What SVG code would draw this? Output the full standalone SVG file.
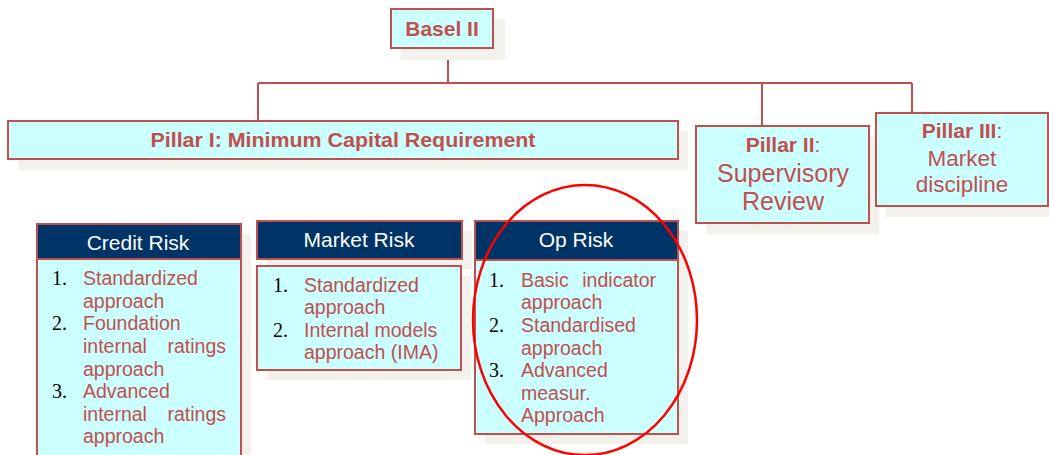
<svg xmlns="http://www.w3.org/2000/svg" width="1049" height="455" viewBox="0 0 1049 455">
<style>
.shadow{fill:#f3f1ec;stroke:none}
.box{fill:#ccffff;stroke:#c0504d;stroke-width:2}
.hdr{fill:#003366;stroke:#c0504d;stroke-width:2}
.t{font-family:"Liberation Sans",Arial,sans-serif;fill:#c0504d}
.b{font-weight:bold}
.h{font-family:"Liberation Sans",Arial,sans-serif;fill:#ffffff;font-size:21px;text-anchor:middle}
.n{font-family:"Liberation Serif","Times New Roman",serif;fill:#000000;font-size:20px}
.li{font-family:"Liberation Sans",Arial,sans-serif;fill:#c0504d;font-size:19.5px}
.c{text-anchor:middle}
.e{text-anchor:end}
.conn{fill:none;stroke:#c0504d;stroke-width:2}
</style>
<rect width="1049" height="455" fill="#ffffff"/>
<g id="connectors">
<path class="conn" d="M448,48 V83 M258,83 H912 M258,83 V121 M762,83 V126 M912,83 V113"/>
</g>
<g id="basel">
<rect class="shadow" x="401" y="19" width="104" height="41"/>
<rect class="box" x="391" y="9" width="102" height="39"/>
<text class="t b c" x="442" y="36" font-size="21">Basel II</text>
</g>
<g id="pillar1">
<rect class="shadow" x="18" y="131" width="670" height="39"/>
<rect class="box" x="8" y="121" width="670" height="38"/>
<text class="t b c" x="343" y="147" font-size="20" textLength="385" lengthAdjust="spacingAndGlyphs">Pillar I: Minimum Capital Requirement</text>
</g>
<g id="pillar2">
<rect class="shadow" x="706" y="136" width="173" height="98"/>
<rect class="box" x="696" y="126" width="173" height="97"/>
<text class="t c" x="783" y="152" font-size="21"><tspan class="b">Pillar II</tspan>:</text>
<text class="t c" x="783" y="182" font-size="25">Supervisory</text>
<text class="t c" x="783" y="210" font-size="25">Review</text>
</g>
<g id="pillar3">
<rect class="shadow" x="886" y="123" width="163" height="94"/>
<rect class="box" x="876" y="113" width="172" height="93"/>
<text class="t c" x="962" y="138" font-size="21"><tspan class="b">Pillar III</tspan>:</text>
<text class="t c" x="962" y="166" font-size="22.5">Market</text>
<text class="t c" x="962" y="192" font-size="22.5">discipline</text>
</g>
<g id="credit">
<rect class="shadow" x="47" y="234" width="204" height="225"/>
<rect class="box" x="37" y="259" width="204" height="200"/>
<rect class="hdr" x="37" y="224" width="204" height="35"/>
<text class="h" x="138" y="250">Credit Risk</text>
<text class="n" x="52" y="285">1.</text>
<text class="li" x="83" y="285">Standardized</text>
<text class="li" x="83" y="308">approach</text>
<text class="n" x="52" y="330">2.</text>
<text class="li" x="83" y="330">Foundation</text>
<text class="li" x="83" y="353">internal</text>
<text class="li e" x="226" y="353">ratings</text>
<text class="li" x="83" y="376">approach</text>
<text class="n" x="52" y="398">3.</text>
<text class="li" x="83" y="398">Advanced</text>
<text class="li" x="83" y="421">internal</text>
<text class="li e" x="226" y="421">ratings</text>
<text class="li" x="83" y="443">approach</text>
</g>
<g id="market">
<rect class="shadow" x="267" y="231" width="205" height="38"/>
<rect class="shadow" x="267" y="276" width="204" height="104"/>
<rect class="hdr" x="257" y="221" width="205" height="38"/>
<text class="h" x="359" y="247">Market Risk</text>
<rect class="box" x="257" y="266" width="204" height="104"/>
<text class="n" x="273" y="292">1.</text>
<text class="li" x="304" y="292">Standardized</text>
<text class="li" x="304" y="314">approach</text>
<text class="n" x="273" y="337">2.</text>
<text class="li" x="304" y="337">Internal models</text>
<text class="li" x="304" y="359">approach (IMA)</text>
</g>
<g id="op">
<rect class="shadow" x="485" y="231" width="203" height="213"/>
<rect class="box" x="475" y="260" width="203" height="174"/>
<rect class="hdr" x="475" y="221" width="203" height="39"/>
<text class="h" x="576" y="247">Op Risk</text>
<text class="n" x="489" y="287">1.</text>
<text class="li" x="521" y="287">Basic</text>
<text class="li e" x="656" y="287">indicator</text>
<text class="li" x="521" y="309">approach</text>
<text class="n" x="489" y="332">2.</text>
<text class="li" x="521" y="332">Standardised</text>
<text class="li" x="521" y="355">approach</text>
<text class="n" x="489" y="377">3.</text>
<text class="li" x="521" y="377">Advanced</text>
<text class="li" x="521" y="400">measur.</text>
<text class="li" x="521" y="422">Approach</text>
</g>
<ellipse cx="585" cy="320" rx="112" ry="135" fill="none" stroke="#ff0000" stroke-width="2.5"/>
</svg>
